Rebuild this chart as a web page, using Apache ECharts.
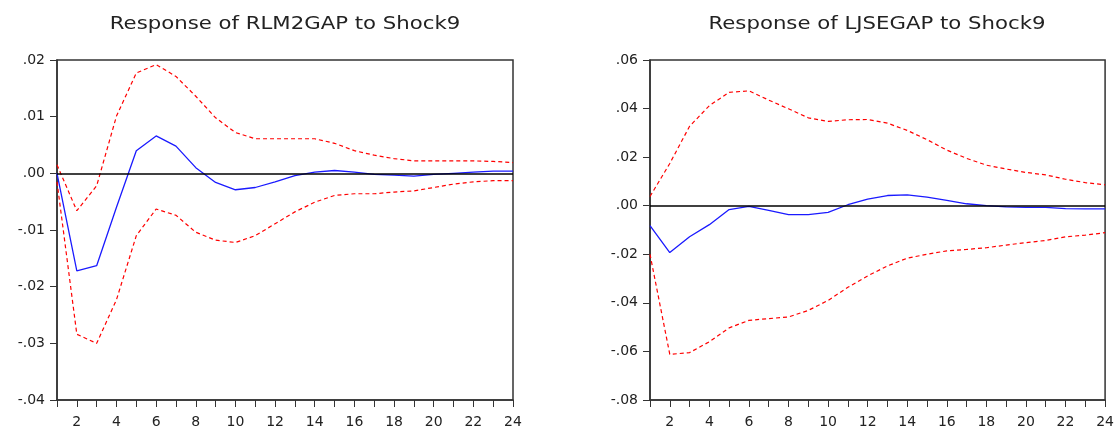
<!DOCTYPE html>
<html>
<head>
<meta charset="utf-8">
<script src="https://cdn.jsdelivr.net/npm/echarts@6/dist/echarts.min.js"></script>
<style>
  html, body { margin: 0; padding: 0; background: #fff; }
  #main { width: 1117px; height: 429px; }
</style>
</head>
<body>
<div id="main"></div>
<script>
// periods 1..24
var periods = [];
for (var p = 1; p <= 24; p++) periods.push(String(p));

// Response of RLM2GAP to Shock9
var rlmResp  = [0.0000, -0.0172, -0.0163, -0.0060, 0.0040, 0.0066, 0.0048, 0.0010, -0.0016, -0.0029, -0.0025, -0.0015,
                -0.0004, 0.0002, 0.0005, 0.0002, -0.0002, -0.0003, -0.0005, -0.0002, 0.0000, 0.0002, 0.0004, 0.0004];
var rlmUpper = [0.0015, -0.0066, -0.0022, 0.0101, 0.0177, 0.0192, 0.0171, 0.0136, 0.0098, 0.0072, 0.0061, 0.0061,
                0.0061, 0.0061, 0.0053, 0.0040, 0.0032, 0.0026, 0.0022, 0.0022, 0.0022, 0.0022, 0.0021, 0.0019];
var rlmLower = [-0.0015, -0.0284, -0.0300, -0.0223, -0.0110, -0.0063, -0.0074, -0.0104, -0.0118, -0.0122, -0.0110, -0.0089,
                -0.0068, -0.0051, -0.0039, -0.0036, -0.0036, -0.0033, -0.0031, -0.0025, -0.0019, -0.0015, -0.0013, -0.0013];

// Response of LJSEGAP to Shock9
var ljsResp  = [-0.0082, -0.0193, -0.0128, -0.0078, -0.0016, -0.0003, -0.0019, -0.0037, -0.0037, -0.0027, 0.0004, 0.0027,
                0.0042, 0.0045, 0.0035, 0.0022, 0.0008, 0.0000, -0.0005, -0.0007, -0.0007, -0.0012, -0.0013, -0.0013];
var ljsUpper = [0.0038, 0.0174, 0.0327, 0.0412, 0.0467, 0.0473, 0.0435, 0.0399, 0.0362, 0.0347, 0.0354, 0.0355,
                0.0340, 0.0310, 0.0272, 0.0229, 0.0195, 0.0167, 0.0151, 0.0137, 0.0127, 0.0109, 0.0095, 0.0086];
var ljsLower = [-0.0200, -0.0612, -0.0605, -0.0560, -0.0503, -0.0472, -0.0465, -0.0458, -0.0431, -0.0390, -0.0336, -0.0289,
                -0.0248, -0.0216, -0.0200, -0.0186, -0.0180, -0.0173, -0.0162, -0.0152, -0.0143, -0.0128, -0.0121, -0.0111];

var titles = ['Response of RLM2GAP to Shock9', 'Response of LJSEGAP to Shock9'];

var FONT = 'DejaVu Sans';
var chart = echarts.init(document.getElementById('main'));

// .02 / -.01 style labels
function fmt(v) {
    var s = Math.abs(v).toFixed(2).replace(/^0/, '');
    return (v < -1e-9 ? '-' : '') + s;
}

function xAxisOf(gi) {
    return {
        type: 'category', gridIndex: gi, data: periods, boundaryGap: false,
        axisLine: { onZero: false, lineStyle: { color: '#333', width: 1.5 } },
        axisTick: { interval: 0, length: 7, lineStyle: { color: '#333' } },
        axisLabel: {
            interval: function (i) { return i % 2 === 1; },
            color: '#222', fontFamily: FONT, fontSize: 14, margin: 15
        },
        splitLine: { show: false }
    };
}
function yAxisOf(gi, min, max, step) {
    return {
        type: 'value', gridIndex: gi, min: min, max: max, interval: step,
        axisLine: { show: true, lineStyle: { color: '#333', width: 1.5 } },
        axisTick: { show: true, length: 7, lineStyle: { color: '#333' } },
        axisLabel: { formatter: fmt, color: '#222', fontFamily: FONT, fontSize: 14, margin: 12 },
        splitLine: { show: false }
    };
}
function resp(gi, data) {
    return {
        type: 'line', xAxisIndex: gi, yAxisIndex: gi, data: data, symbol: 'none', silent: true,
        lineStyle: { color: '#1a1aff', width: 1.3 }, z: 4,
        markLine: {
            symbol: 'none', silent: true, label: { show: false },
            lineStyle: { color: '#000', width: 1.5, type: 'solid' },
            data: [{ yAxis: 0 }]
        }
    };
}
function band(gi, data) {
    return {
        type: 'line', xAxisIndex: gi, yAxisIndex: gi, data: data, symbol: 'none', silent: true,
        lineStyle: { color: '#ff0000', width: 1.2, type: [4, 3] }, z: 3
    };
}
// titles are a bit stretched in the original, so draw them as graphic text
function titleText(cx, txt) {
    return {
        type: 'text', x: cx, y: 24, scaleX: 1.18, silent: true,
        style: { text: txt, fontFamily: FONT, fontSize: 18, fill: '#222', align: 'center', verticalAlign: 'middle' }
    };
}

var option = {
    animation: false,
    backgroundColor: '#fff',
    graphic: [titleText(285, titles[0]), titleText(877, titles[1])],
    grid: [
        { left: 57, right: 604, top: 60, bottom: 27, show: true, borderColor: '#333', borderWidth: 1.5 },
        { left: 650, right: 9, top: 60, bottom: 27, show: true, borderColor: '#333', borderWidth: 1.5 }
    ],
    xAxis: [xAxisOf(0), xAxisOf(1)],
    yAxis: [yAxisOf(0, -0.04, 0.02, 0.01), yAxisOf(1, -0.08, 0.06, 0.02)],
    series: [
        resp(0, rlmResp), band(0, rlmUpper), band(0, rlmLower),
        resp(1, ljsResp), band(1, ljsUpper), band(1, ljsLower)
    ]
};

//渲染图表
if (option && typeof option === "object") {
    chart.setOption(option, true);
}
</script>
</body>
</html>
